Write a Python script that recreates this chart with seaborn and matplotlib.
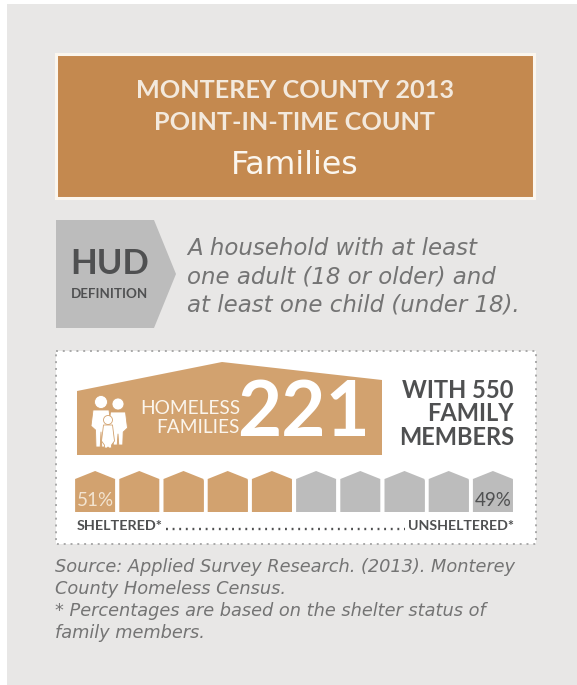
import numpy as np
import pandas as pd
import matplotlib
matplotlib.use('Agg')
import matplotlib.pyplot as plt
from matplotlib.patches import Polygon, Rectangle, Circle
import seaborn as sns

title_lines = ['MONTEREY COUNTY 2013', 'POINT-IN-TIME COUNT']
subtitle = 'Families'
definition_lines = ['A household with at least', 'one adult (18 or older) and', 'at least one child (under 18).']
source_lines = ['Source: Applied Survey Research. (2013). Monterey', 'County Homeless Census.',
                '* Percentages are based on the shelter status of', 'family members.']
homeless_families = 221
family_members = 550
sheltered_pct = 51
unsheltered_pct = 49
house_ids = list(range(10))
house_status = ['sheltered'] * 5 + ['unsheltered'] * 5
house_height = [1] * 10

ORANGE = '#c4894f'
TAN = '#d2a26f'
GRAY = '#bcbcbc'
BG = '#e8e7e6'
DARK = '#4f5051'
MID = '#747474'

sns.set_theme(style='white')
plt.rcParams['font.family'] = ['Lato', 'DejaVu Sans']

W, H = 577, 685
fig = plt.figure(figsize=(W / 100, H / 100), dpi=100, facecolor='white')
ax = fig.add_axes([0, 0, 1, 1])
ax.set_xlim(0, W)
ax.set_ylim(H, 0)
ax.axis('off')

# page + title block
ax.add_patch(Rectangle((7, 4), W - 7, H - 4, fc=BG, ec='none'))
ax.add_patch(Rectangle((56, 54), 478, 144, fc=ORANGE, ec='#fbf6ee', lw=2.2))
ax.text(295, 90, title_lines[0], ha='center', va='center', color='#f3e9dd', fontsize=18.2, fontweight='bold')
ax.text(295, 122, title_lines[1], ha='center', va='center', color='#f3e9dd', fontsize=18.2, fontweight='bold')
ax.text(295, 165, subtitle, ha='center', va='center', color='#fbf6ee', fontsize=22.7, family='DejaVu Sans')

# HUD tag
ax.add_patch(Polygon([(56, 220), (154, 220), (176, 274), (154, 328), (56, 328)], fc=GRAY, ec='none'))
ax.text(110, 264, 'HUD', ha='center', va='center', color=DARK, fontsize=25, fontweight='bold')
ax.text(110, 294, 'DEFINITION', ha='center', va='center', color=DARK, fontsize=9.6, fontweight='bold')
for i, line in enumerate(definition_lines):
    ax.text(187, 248 + i * 28.7, line, ha='left', va='center', color=MID, fontsize=16.5, style='italic', family='DejaVu Sans')

# dotted white panel
ax.add_patch(Rectangle((56, 351), 480, 193, fc='white', ec='#a9a9a9', lw=1.4, ls=(0, (1, 2.5))))

# big house
ax.add_patch(Polygon([(77, 391), (222, 362), (382, 380), (382, 455), (77, 455)], fc=TAN, ec='none'))
ax.text(240, 408, 'HOMELESS', ha='right', va='center', color='#fbf5ec', fontsize=13.8)
ax.text(240, 427, 'FAMILIES', ha='right', va='center', color='#fbf5ec', fontsize=13.8)
ax.text(304, 414, str(homeless_families), ha='center', va='center', color='white', fontsize=55, fontweight='bold')
ax.text(514, 390, 'WITH %d' % family_members, ha='right', va='center', color=DARK, fontsize=17, fontweight='bold')
ax.text(514, 413, 'FAMILY', ha='right', va='center', color=DARK, fontsize=17, fontweight='bold')
ax.text(514, 437, 'MEMBERS', ha='right', va='center', color=DARK, fontsize=17, fontweight='bold')

# family icon
for cx, cy, r, top, bot, hw, z in [(101, 402, 6.5, 410, 447, 10, 3), (118, 404, 6, 412, 445, 9.5, 3), (108, 420, 4.5, 425, 448, 6.5, 4)]:
    ax.add_patch(Circle((cx, cy), r, fc='white', ec=TAN, lw=0.6, zorder=z))
    body = [(cx - hw + 2, top), (cx + hw - 2, top), (cx + hw, top + 16), (cx + hw * 0.55, top + 20), (cx + hw * 0.5, bot),
            (cx + 0.8, bot), (cx, top + 22), (cx - 0.8, bot), (cx - hw * 0.5, bot), (cx - hw * 0.55, top + 20), (cx - hw, top + 16)]
    ax.add_patch(Polygon(body, fc='white', ec=TAN, lw=0.6, joinstyle='round', zorder=z))

# row of houses, bars come from seaborn, pentagons are built from the bar geometry
row = fig.add_axes([73 / W, 1 - 512 / H, 442 / W, 33 / H])
df = pd.DataFrame({'house': house_ids, 'height': house_height, 'status': house_status})
sns.barplot(data=df, x='house', y='height', hue='status', palette={'sheltered': TAN, 'unsheltered': GRAY},
            dodge=False, width=0.905, legend=False, ax=row, saturation=1)
row.set_ylim(0, 1)
row.set_xlim(-0.5, 9.5)
row.axis('off')
roof = 8 / 33
for bar in list(row.patches):
    if bar.get_width() == 0:
        continue
    x0, w, h = bar.get_x(), bar.get_width(), bar.get_height()
    row.add_patch(Polygon([(x0, 0), (x0, h), (x0 + w / 2, h + roof), (x0 + w, h), (x0 + w, 0)],
                          fc=bar.get_facecolor(), ec='none', clip_on=False))

fig.text(77 / W, 1 - 501 / H, '%d%%' % sheltered_pct, ha='left', va='center', color='#f3e4d0', fontsize=13.5, zorder=5)
fig.text(512 / W, 1 - 501 / H, '%d%%' % unsheltered_pct, ha='right', va='center', color=DARK, fontsize=13.5, zorder=5)
ax.text(77, 526, 'SHELTERED*', ha='left', va='center', color=DARK, fontsize=10.4, fontweight='bold')
ax.text(514, 526, 'UNSHELTERED*', ha='right', va='center', color=DARK, fontsize=10.2, fontweight='bold')
ax.plot([166, 405], [529, 529], color=DARK, lw=1.7, ls=(0, (0.8, 2.0)))

# source
for i, line in enumerate(source_lines):
    ax.text(55, 567 + i * 22, line, ha='left', va='center', color=MID, fontsize=12.8, style='italic', family='DejaVu Sans')

fig.savefig('out.png', dpi=100, facecolor='white')
